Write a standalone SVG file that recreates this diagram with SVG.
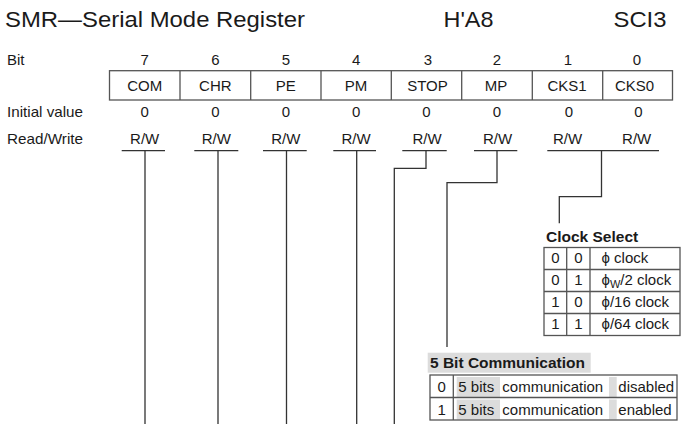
<svg xmlns="http://www.w3.org/2000/svg" width="681" height="424" viewBox="0 0 681 424">
<style>
text{font-family:"Liberation Sans",Arial,sans-serif;fill:#1a1a1a}
.t{font-size:15px}
.c{text-anchor:middle;font-size:15px}
.b{font-weight:bold;font-size:15.5px}
.title{font-size:22px}
.box{fill:none;stroke:#555;stroke-width:1.3}
.ln{fill:none;stroke:#333;stroke-width:1.3}
.hl{fill:#dcdcdc}
</style>
<rect width="681" height="424" fill="#fff"/>
<g id="header">
<text class="title" x="5" y="26.5" textLength="300" lengthAdjust="spacingAndGlyphs">SMR—Serial Mode Register</text>
<text class="title" x="443.5" y="26.5" textLength="50" lengthAdjust="spacingAndGlyphs">H'A8</text>
<text class="title" x="613.5" y="26.5" textLength="53" lengthAdjust="spacingAndGlyphs">SCI3</text>
</g>
<g id="labels">
<text class="t" x="7" y="65">Bit</text>
<text class="t" x="7" y="117" textLength="76" lengthAdjust="spacingAndGlyphs">Initial value</text>
<text class="t" x="7" y="143.5" textLength="76" lengthAdjust="spacingAndGlyphs">Read/Write</text>
</g>
<g id="register">
<rect class="box" x="109.5" y="70.7" width="563" height="29.3"/>
<path class="box" d="M180 70.7V100M250.7 70.7V100M321 70.7V100M391.3 70.7V100M461.7 70.7V100M532.3 70.7V100M602.7 70.7V100"/>
<g class="c">
<text x="144.7" y="65">7</text><text x="215.3" y="65">6</text><text x="285.8" y="65">5</text><text x="356.1" y="65">4</text><text x="428" y="65">3</text><text x="497" y="65">2</text><text x="568" y="65">1</text><text x="637" y="65">0</text>
<text x="144.7" y="91">COM</text><text x="215.3" y="91">CHR</text><text x="285.8" y="91">PE</text><text x="356.1" y="91">PM</text><text x="427.5" y="91">STOP</text><text x="496" y="91">MP</text><text x="567" y="91">CKS1</text><text x="634.5" y="91">CKS0</text>
<text x="144.7" y="117">0</text><text x="215.3" y="117">0</text><text x="285.8" y="117">0</text><text x="356.1" y="117">0</text><text x="426.5" y="117">0</text><text x="497" y="117">0</text><text x="569" y="117">0</text><text x="638.5" y="117">0</text>
<text x="144.7" y="143.5">R/W</text><text x="216.3" y="143.5">R/W</text><text x="285.8" y="143.5">R/W</text><text x="356.1" y="143.5">R/W</text><text x="427" y="143.5">R/W</text><text x="497.5" y="143.5">R/W</text><text x="567.5" y="143.5">R/W</text><text x="636.7" y="143.5">R/W</text>
</g>
</g>
<g id="connectors">
<path class="ln" d="M121.7 150.7H165M194.3 150.7H238.3M263 150.7H306.7M333.3 150.7H376M402.3 150.7H446.7M474 150.7H517.3M547.3 150.7H659"/>
<path class="ln" d="M145 150.7V424M218 150.7V424M286.5 150.7V424M356.7 150.7V424"/>
<path class="ln" d="M426 150.7V168.3H394.3V424"/>
<path class="ln" d="M497 150.7V182.7H447V347"/>
<path class="ln" d="M601.5 150.7V196.7H559.3V223.3"/>
</g>
<g id="clock-select">
<text class="b" x="546" y="241.7">Clock Select</text>
<rect class="box" x="544" y="247.5" width="136" height="88"/>
<path class="box" d="M544 269.5H680M544 291.5H680M544 313.5H680M566.7 247.5V335.5M590 247.5V335.5"/>
<g class="c">
<text x="555.3" y="263">0</text><text x="578.3" y="263">0</text>
<text x="555.3" y="285">0</text><text x="578.3" y="285">1</text>
<text x="555.3" y="307">1</text><text x="578.3" y="307">0</text>
<text x="555.3" y="329">1</text><text x="578.3" y="329">1</text>
</g>
<text class="t" x="601.5" y="263">ϕ clock</text>
<text class="t" x="601.5" y="285">ϕ<tspan font-size="11" dy="3">W</tspan><tspan dy="-3">/2 clock</tspan></text>
<text class="t" x="601.5" y="307">ϕ/16 clock</text>
<text class="t" x="601.5" y="329">ϕ/64 clock</text>
</g>
<g id="five-bit-communication">
<rect class="hl" x="427.7" y="352.7" width="163" height="20"/>
<text class="b" x="430" y="368">5 Bit Communication</text>
<rect class="hl" x="456.7" y="377" width="43.3" height="20"/>
<rect class="hl" x="609" y="377" width="7.7" height="20"/>
<rect class="hl" x="456.7" y="399.5" width="43.3" height="20"/>
<rect class="hl" x="609" y="399.5" width="7.7" height="20"/>
<rect class="box" x="430" y="375" width="247" height="45"/>
<path class="box" d="M430 397.5H677M453.3 375V420"/>
<text class="c" x="441.7" y="392">0</text>
<text class="c" x="441.7" y="414.5">1</text>
<text class="t" x="458.3" y="392">5 bits</text>
<text class="t" x="502.3" y="392">communication</text>
<text class="t" x="618.3" y="392">disabled</text>
<text class="t" x="458.3" y="414.5">5 bits</text>
<text class="t" x="502.3" y="414.5">communication</text>
<text class="t" x="618.3" y="414.5">enabled</text>
</g>
</svg>
